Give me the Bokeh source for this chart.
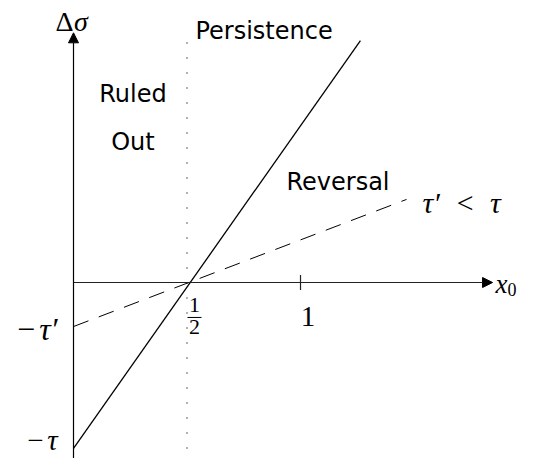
from bokeh.plotting import figure
from bokeh.models import Range1d, Arrow, NormalHead, Label
from bokeh.embed import file_html
from bokeh.resources import INLINE

# ---- data (x in units of x0, y in same units) ----
tau = 0.731
tau_p = 0.194
x_axis_end = 1.846
y_axis_top = 1.10
y_axis_bottom = -0.80
solid_x = [0.0, 1.264]
solid_y = [-tau, 1.066]
dashed_x = [0.0, 1.467]
dashed_y = [-tau_p, 0.366]
dotted_x = [0.5, 0.5]
dotted_y = [-tau, 1.07]
tick_x = 1.0
tick_half = 0.033
half_bar_x = [0.502, 0.564]
half_bar_y = [-0.154, -0.154]

p = figure(width=517, height=458, x_range=Range1d(-0.3216, 1.9559),
           y_range=Range1d(-0.7753, 1.2423), x_axis_type=None, y_axis_type=None,
           min_border=0, toolbar_location=None, output_backend="svg")
p.outline_line_color = None
p.xgrid.visible = False
p.ygrid.visible = False
p.background_fill_color = "white"
p.border_fill_color = "white"

AX = "#222222"
# axes with arrows
p.add_layout(Arrow(end=NormalHead(size=10, fill_color="black", line_color="black", line_width=1),
                   x_start=0, y_start=0, x_end=x_axis_end, y_end=0,
                   line_color=AX, line_width=1.2))
p.add_layout(Arrow(end=NormalHead(size=10, fill_color="black", line_color="black", line_width=1),
                   x_start=0, y_start=y_axis_bottom, x_end=0, y_end=y_axis_top,
                   line_color="black", line_width=1.2))
# tick at 1
p.line([tick_x, tick_x], [-tick_half, tick_half], line_color=AX, line_width=1.2)

# lines
p.line(solid_x, solid_y, line_color="black", line_width=1.3)
p.line(dashed_x, dashed_y, line_color="black", line_width=1.0, line_dash="16 11")
p.line(dotted_x, dotted_y, line_color="black", line_width=1.2, line_dash="1 14")
p.line(half_bar_x, half_bar_y, line_color="black", line_width=1.0)

SERIF = "Liberation Serif"
SANS = "DejaVu Sans"
SH = 0.040  # baseline correction

def lab(x, y, t, font, size, align="left", style="normal", dy=SH):
    p.add_layout(Label(x=x, y=y + dy, text=t, text_font=font, text_font_size=size,
                       text_align=align, text_baseline="alphabetic", text_font_style=style,
                       text_color="black"))

# math labels
lab(0.0, 1.132, "Δ", SERIF, "28px", align="right", dy=0.018)
lab(0.002, 1.132, "σ", SERIF, "28px", style="italic", dy=0.018)
lab(1.859, -0.048, "x", SERIF, "27px", style="italic")
lab(1.912, -0.070, "0", SERIF, "18px")
lab(1.033, -0.189, "1", SERIF, "29px", align="center")
lab(0.533, -0.137, "1", SERIF, "22px", align="center")
lab(0.533, -0.238, "2", SERIF, "22px", align="center")
lab(-0.070, -0.247, "−\u200aτ′", SERIF, "32px", align="right", style="italic")
lab(-0.070, -0.767, "−\u200aτ", SERIF, "29px", align="right", style="italic", dy=0.075)
lab(1.537, 0.313, "τ′\u2002<\u2002τ", SERIF, "30px", style="italic")

# text labels
lab(0.537, 1.066, "Persistence", SANS, "24px")
lab(0.262, 0.789, "Ruled", SANS, "24px", align="center")
lab(0.262, 0.581, "Out", SANS, "24px", align="center")
lab(0.938, 0.401, "Reversal", SANS, "24px")

open("out.html", "w").write(file_html(p, INLINE))
